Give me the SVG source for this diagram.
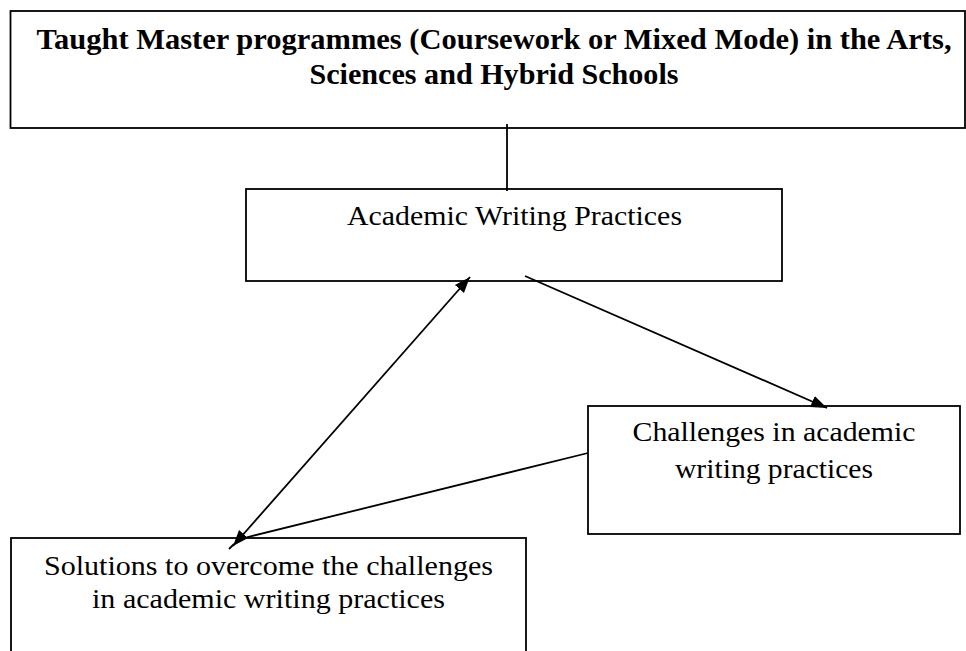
<svg xmlns="http://www.w3.org/2000/svg" width="966" height="651" viewBox="0 0 966 651">
<style>
.box{fill:#fff;stroke:#000;stroke-width:1.8}
.t{font-family:"Liberation Serif","Times New Roman",serif;font-size:28px;fill:#000;text-anchor:middle}
.b{font-family:"Liberation Serif","Times New Roman",serif;font-size:30px;font-weight:bold;fill:#000;text-anchor:middle}
.c{stroke:#000;stroke-width:1.8;fill:none}
</style>
<defs>
<marker id="ah" markerUnits="userSpaceOnUse" markerWidth="18" markerHeight="14" refX="16" refY="6" orient="auto-start-reverse" viewBox="0 0 18 12">
<path d="M0,0 L16,6 L0,12 Z" fill="#000"/>
</marker>
</defs>
<rect width="966" height="651" fill="#fff"/>
<g id="n-top">
<rect class="box" x="10.5" y="11" width="954.5" height="117"/>
<text class="b" x="494" y="49" textLength="915" lengthAdjust="spacingAndGlyphs">Taught Master programmes (Coursework or Mixed Mode) in the Arts,</text>
<text class="b" x="494" y="84" textLength="369" lengthAdjust="spacingAndGlyphs">Sciences and Hybrid Schools</text>
</g>
<g id="n-awp">
<rect class="box" x="246" y="189" width="536" height="92"/>
<text class="t" x="514.5" y="225" textLength="335" lengthAdjust="spacingAndGlyphs">Academic Writing Practices</text>
</g>
<g id="n-chal">
<rect class="box" x="588" y="406" width="372" height="128"/>
<text class="t" x="774" y="441" textLength="283" lengthAdjust="spacingAndGlyphs">Challenges in academic</text>
<text class="t" x="774" y="478" textLength="198" lengthAdjust="spacingAndGlyphs">writing practices</text>
</g>
<g id="n-sol">
<rect class="box" x="11" y="538" width="515" height="125"/>
<text class="t" x="268.5" y="575" textLength="449" lengthAdjust="spacingAndGlyphs">Solutions to overcome the challenges</text>
<text class="t" x="268.5" y="608" textLength="353" lengthAdjust="spacingAndGlyphs">in academic writing practices</text>
</g>
<g id="connectors">
<line class="c" x1="507" y1="124" x2="507" y2="191"/>
<line class="c" x1="525" y1="276" x2="827" y2="408" marker-end="url(#ah)"/>
<line class="c" x1="233" y1="546" x2="470" y2="277" marker-start="url(#ah)" marker-end="url(#ah)"/>
<line class="c" x1="229" y1="549" x2="234" y2="544"/>
<line class="c" x1="588" y1="453" x2="244" y2="538"/>
</g>
</svg>
